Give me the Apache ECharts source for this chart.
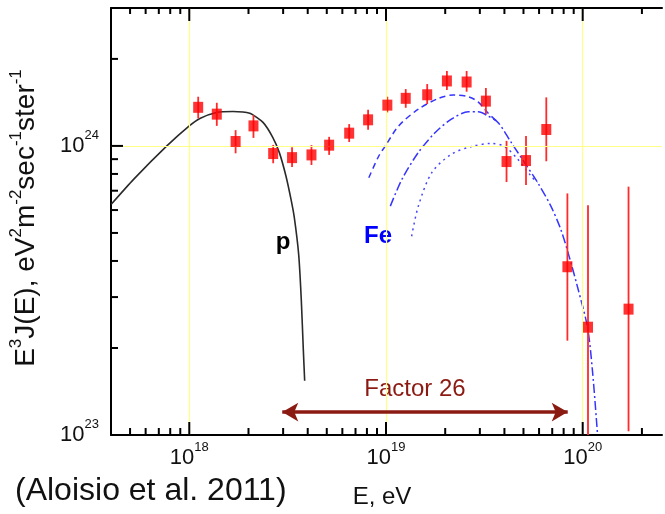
<!DOCTYPE html>
<html><head><meta charset="utf-8">
<script src="https://cdn.jsdelivr.net/npm/echarts@6/dist/echarts.min.js"></script>
<style>html,body{margin:0;padding:0;background:#fff}#c{width:665px;height:514px}</style>
</head><body><div id="c"></div>
<script>
// ---- data ----
const energy   = [1.11e18, 1.38e18, 1.72e18, 2.12e18, 2.67e18, 3.33e18, 4.18e18, 5.14e18, 6.50e18, 8.11e18, 1.016e19, 1.26e19, 1.62e19, 2.04e19, 2.57e19, 3.22e19, 4.10e19, 5.15e19, 6.53e19, 8.36e19, 1.064e20, 1.71e20];
const flux     = [1.36e24, 1.288e24, 1.036e24, 1.173e24, 0.941e24, 0.911e24, 0.931e24, 1.006e24, 1.107e24, 1.231e24, 1.384e24, 1.461e24, 1.503e24, 1.678e24, 1.664e24, 1.429e24, 0.883e24, 0.890e24, 1.14e24, 0.382e24, 0.236e24, 0.2725e24];
const fluxLow  = [1.245e24, 1.173e24, 0.943e24, 1.066e24, 0.871e24, 0.846e24, 0.859e24, 0.931e24, 1.032e24, 1.137e24, 1.306e24, 1.355e24, 1.396e24, 1.561e24, 1.54e24, 1.288e24, 0.750e24, 0.732e24, 0.885e24, 0.212e24, 0.09e24, 0.103e24];
const fluxHigh = [1.48e24, 1.41e24, 1.134e24, 1.278e24, 1.008e24, 0.990e24, 1.006e24, 1.075e24, 1.19e24, 1.334e24, 1.48e24, 1.573e24, 1.637e24, 1.817e24, 1.817e24, 1.586e24, 1.041e24, 1.083e24, 1.472e24, 0.685e24, 0.624e24, 0.723e24];

const protonE = [4.01e17, 5.21e17, 7.69e17, 1.0e18, 1.132e18, 1.375e18, 1.667e18, 2.03e18, 2.37e18, 2.66e18, 2.87e18, 3.10e18, 3.29e18, 3.42e18, 3.60e18, 3.71e18, 3.80e18, 3.86e18];
const protonF = [6.28e23, 7.66e23, 1.0e24, 1.173e24, 1.245e24, 1.306e24, 1.316e24, 1.296e24, 1.206e24, 1.069e24, 0.948e24, 0.787e24, 0.653e24, 0.565e24, 0.420e24, 0.294e24, 0.197e24, 0.154e24];

const feDashE = [8.18e18, 9.19e18, 9.93e18, 1.16e19, 1.46e19, 1.85e19, 2.20e19, 2.62e19, 2.94e19, 3.30e19, 3.71e19];
const feDashF = [0.776e24, 0.923e24, 1.0e24, 1.173e24, 1.34e24, 1.46e24, 1.50e24, 1.48e24, 1.42e24, 1.30e24, 1.206e24];

const feDashDotE = [1.052e19, 1.205e19, 1.46e19, 1.78e19, 2.15e19, 2.62e19, 2.94e19, 3.30e19, 3.71e19, 4.33e19, 5.06e19, 5.90e19, 6.89e19, 7.74e19, 8.53e19, 9.40e19, 1.056e20, 1.12e20, 1.19e20];
const feDashDotF = [0.619e24, 0.766e24, 0.949e24, 1.113e24, 1.238e24, 1.312e24, 1.312e24, 1.27e24, 1.206e24, 1.028e24, 0.876e24, 0.747e24, 0.619e24, 0.514e24, 0.415e24, 0.326e24, 0.237e24, 0.168e24, 0.100e24];

const feDotE = [1.35e19, 1.46e19, 1.71e19, 2.15e19, 2.72e19, 3.43e19, 4.01e19, 4.68e19, 5.46e19, 5.90e19];
const feDotF = [0.487e24, 0.619e24, 0.809e24, 0.936e24, 0.995e24, 1.02e24, 0.995e24, 0.899e24, 0.787e24, 0.747e24];

const arrowE = [2.97e18, 8.39e19];
const arrowF = 1.2e23;

const xMajorTicks = [1e18, 1e19, 1e20];
const xMinorTicks = [5e17, 6e17, 7e17, 8e17, 9e17, 2e18, 3e18, 4e18, 5e18, 6e18, 7e18, 8e18, 9e18, 2e19, 3e19, 4e19, 5e19, 6e19, 7e19, 8e19, 9e19, 2e20];
const yMajorTicks = [1e24];
const yMinorTicks = [2e23, 3e23, 4e23, 5e23, 6e23, 7e23, 8e23, 9e23, 2e24];
const xGridLines = [1e18, 1e19, 1e20];
const yGridLines = [1e24];

const X_MIN = 4e17, X_MAX = 2.53e20, Y_MIN = 1e23, Y_MAX = 3e24;

// ---- chart ----
const FONT = 'Liberation Sans, Arial, sans-serif';
const chart = echarts.init(document.getElementById('c'), null, {renderer: 'canvas'});

function powLabel(v) {
  const e = Math.log10(v);
  if (Math.abs(e - Math.round(e)) > 1e-6) return '';
  return '{b|10}{s|' + Math.round(e) + '}';
}
const labelRich = {
  b: {fontSize: 22, fontFamily: FONT, color: '#111', verticalAlign: 'bottom', lineHeight: 22},
  s: {fontSize: 13, fontFamily: FONT, color: '#111', verticalAlign: 'bottom', lineHeight: 13, padding: [0, 0, 15, 0]}
};

function tickSeries(data, side) {
  return {
    type: 'custom', silent: true, clip: false, z: 5,
    data: data,
    renderItem: function (params, api) {
      const p = api.coord([api.value(0), api.value(1)]);
      const major = api.value(2) === 1;
      let len, x2 = p[0], y2 = p[1];
      if (side === 'bottom') { len = major ? 13 : 7; y2 = p[1] - len; }
      else if (side === 'top') { len = major ? 13 : 6; y2 = p[1] + len; }
      else { len = major ? 12 : 7; x2 = p[0] + len; }
      return {type: 'line', shape: {x1: p[0], y1: p[1], x2: x2, y2: y2},
              style: {stroke: '#000', lineWidth: 2}};
    }
  };
}

const bottomTicks = xMajorTicks.map(v => [v, Y_MIN, 1]).concat(xMinorTicks.map(v => [v, Y_MIN, 0]));
const topTicks = xMajorTicks.map(v => [v, Y_MAX, 1]).concat(xMinorTicks.map(v => [v, Y_MAX, 0]));
const leftTicks = yMajorTicks.map(v => [X_MIN, v, 1]).concat(yMinorTicks.map(v => [X_MIN, v, 0]));

const option = {
  backgroundColor: '#fff',
  animation: false,
  grid: {left: 111, right: 0, top: 8, bottom: 79, containLabel: false},
  xAxis: [{
    type: 'log', logBase: 10, min: X_MIN, max: X_MAX, position: 'bottom',
    axisLine: {show: true, onZero: false, lineStyle: {color: '#000', width: 2}},
    axisTick: {show: false}, splitLine: {show: false}, minorTick: {show: false},
    axisLabel: {margin: 12, formatter: powLabel, rich: labelRich}
  }, {
    type: 'log', logBase: 10, min: X_MIN, max: X_MAX, position: 'top',
    axisLine: {show: true, onZero: false, lineStyle: {color: '#000', width: 2}},
    axisTick: {show: false}, splitLine: {show: false}, axisLabel: {show: false}
  }],
  yAxis: [{
    type: 'log', logBase: 10, min: Y_MIN, max: Y_MAX,
    axisLine: {show: true, onZero: false, lineStyle: {color: '#000', width: 2}},
    axisTick: {show: false}, splitLine: {show: false},
    axisLabel: {margin: 12, formatter: powLabel, rich: labelRich}
  }],
  series: [
    {
      type: 'line', data: [], silent: true, z: 1,
      markLine: {
        silent: true, symbol: ['none', 'none'], label: {show: false}, animation: false,
        lineStyle: {color: '#ffff88', width: 1.2, type: 'solid'},
        data: xGridLines.map(v => ({xAxis: v})).concat(yGridLines.map(v => ({yAxis: v})))
      }
    },
    {
      type: 'line', data: protonE.map((e, i) => [e, protonF[i]]),
      showSymbol: false, smooth: 0.2, z: 3,
      lineStyle: {color: '#2a2a2a', width: 1.6}
    },
    {
      type: 'line', data: feDashE.map((e, i) => [e, feDashF[i]]),
      showSymbol: false, smooth: 0.3, z: 3,
      lineStyle: {color: '#3535ff', width: 1.5, type: [6, 4]}
    },
    {
      type: 'line', data: feDashDotE.map((e, i) => [e, feDashDotF[i]]),
      showSymbol: false, smooth: 0.3, z: 3,
      lineStyle: {color: '#3535ff', width: 1.5, type: [9, 3, 2, 3]}
    },
    {
      type: 'line', data: feDotE.map((e, i) => [e, feDotF[i]]),
      showSymbol: false, smooth: 0.3, z: 3,
      lineStyle: {color: '#4545ff', width: 1.5, type: [2, 4]}
    },
    {
      type: 'custom', silent: true, clip: true, z: 4,
      data: energy.map((e, i) => [e, fluxLow[i], fluxHigh[i]]),
      renderItem: function (params, api) {
        const a = api.coord([api.value(0), api.value(1)]);
        const b = api.coord([api.value(0), api.value(2)]);
        return {type: 'line', shape: {x1: a[0], y1: a[1], x2: b[0], y2: b[1]},
                style: {stroke: '#ff2a2a', lineWidth: 1.8}};
      }
    },
    {
      type: 'scatter', data: energy.map((e, i) => [e, flux[i]]),
      symbol: 'rect', symbolSize: [10, 11], z: 6,
      itemStyle: {color: '#ff0000'}
    },
    {
      type: 'line', data: [], silent: true, z: 4,
      markLine: {
        silent: true, symbol: ['arrow', 'arrow'], symbolSize: [14, 16], label: {show: false}, animation: false,
        lineStyle: {color: '#8b1a12', width: 3.5, type: 'solid'},
        data: [[{coord: [arrowE[0], arrowF]}, {coord: [arrowE[1], arrowF]}]]
      }
    },
    tickSeries(bottomTicks, 'bottom'),
    Object.assign(tickSeries(topTicks, 'top'), {xAxisIndex: 1}),
    tickSeries(leftTicks, 'left')
  ],
  graphic: [
    {type: 'text', x: 26, y: 218, rotation: Math.PI / 2,
     style: {text: 'E{s|3}J(E), eV{s|2}m{s|-2}sec{s|-1}ster{s|-1}', fontSize: 28, fontFamily: FONT, fill: '#111',
             textAlign: 'center', textVerticalAlign: 'middle', align: 'center', verticalAlign: 'middle',
             rich: {s: {fontSize: 17, fontFamily: FONT, fill: '#111', verticalAlign: 'bottom', lineHeight: 17, padding: [0, 0, 15, 0]}}}},
    {type: 'text', x: 283, y: 242,
     style: {text: 'p', fontSize: 24, fontWeight: 'bold', fontFamily: FONT, fill: '#000',
             textAlign: 'center', textVerticalAlign: 'middle', align: 'center', verticalAlign: 'middle'}},
    {type: 'text', x: 378, y: 236,
     style: {text: 'Fe', fontSize: 24, fontWeight: 'bold', fontFamily: FONT, fill: '#0000ff',
             textAlign: 'center', textVerticalAlign: 'middle', align: 'center', verticalAlign: 'middle'}},
    {type: 'text', x: 415, y: 389,
     style: {text: 'Factor 26', fontSize: 24, fontFamily: FONT, fill: '#8b1a12',
             textAlign: 'center', textVerticalAlign: 'middle', align: 'center', verticalAlign: 'middle'}},
    {type: 'text', x: 15, y: 491,
     style: {text: '(Aloisio et al. 2011)', fontSize: 32, fontFamily: FONT, fill: '#111',
             textAlign: 'left', textVerticalAlign: 'middle', align: 'left', verticalAlign: 'middle'}},
    {type: 'text', x: 382, y: 497,
     style: {text: 'E, eV', fontSize: 24, fontFamily: FONT, fill: '#111',
             textAlign: 'center', textVerticalAlign: 'middle', align: 'center', verticalAlign: 'middle'}}
  ]
};
chart.setOption(option);
</script>
</body></html>
